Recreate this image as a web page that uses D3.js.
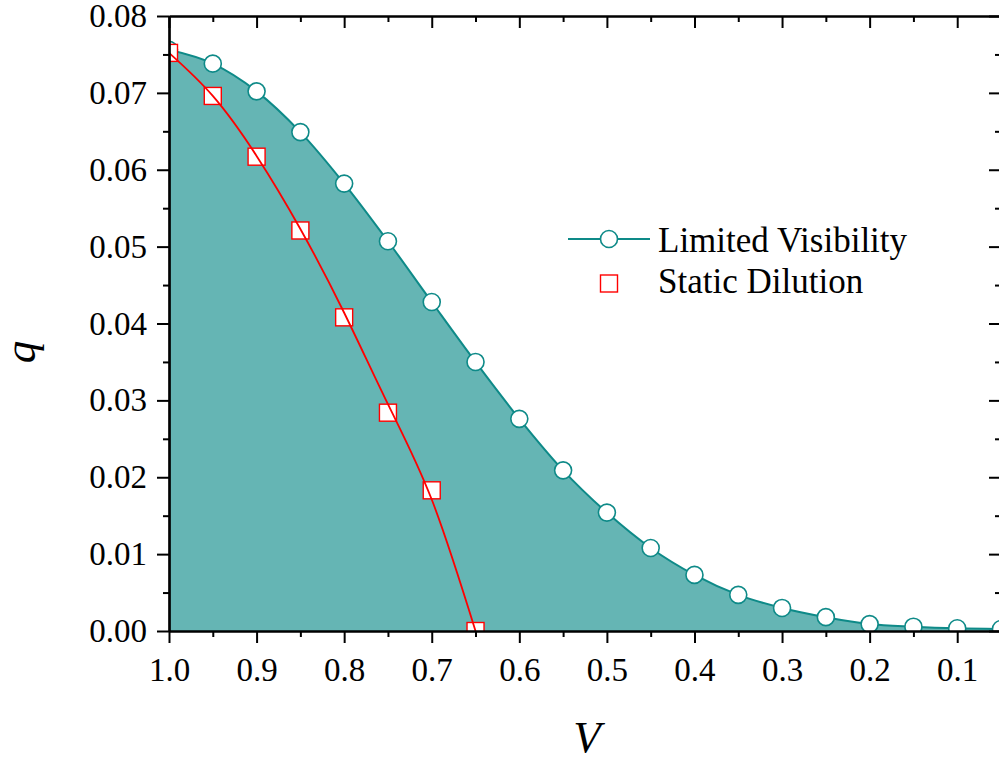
<!DOCTYPE html>
<html>
<head>
<meta charset="utf-8">
<script src="https://cdn.jsdelivr.net/npm/d3@7"></script>
<style>
  html, body { margin: 0; padding: 0; background: #fff; }
  svg { display: block; }
</style>
</head>
<body>
<svg id="chart" width="999" height="761"></svg>
<script>
// V values (x axis, reversed)
const vValues = [1.0, 0.95, 0.9, 0.85, 0.8, 0.75, 0.7, 0.65, 0.6, 0.55, 0.5,
                 0.45, 0.4, 0.35, 0.3, 0.25, 0.2, 0.15, 0.1, 0.05];
const limitedVisibility = [0.0756, 0.0738, 0.0702, 0.0649, 0.0582, 0.0507, 0.0428, 0.0350,
                           0.0276, 0.0209, 0.0154, 0.0108, 0.0073, 0.0047, 0.0030, 0.0018,
                           0.0009, 0.00056, 0.00035, 0.00026];

// Static dilution: symbols and the smooth fitted line drawn through them
const vStatic = [1.0, 0.95, 0.9, 0.85, 0.8, 0.75, 0.7, 0.65];
const staticDilution = [0.0752, 0.0696, 0.0617, 0.0521, 0.0408, 0.0284, 0.0183, 0.0];
const staticDilutionFit = [0.0752, 0.0696, 0.0618, 0.0523, 0.0414, 0.0295, 0.0171, 0.0];

const xMajorTicks = [1.0, 0.9, 0.8, 0.7, 0.6, 0.5, 0.4, 0.3, 0.2, 0.1];
const xMinorTicks = [0.95, 0.85, 0.75, 0.65, 0.55, 0.45, 0.35, 0.25, 0.15, 0.05];
const yMajorTicks = [0, 0.01, 0.02, 0.03, 0.04, 0.05, 0.06, 0.07, 0.08];
const yMinorTicks = [0.005, 0.015, 0.025, 0.035, 0.045, 0.055, 0.065, 0.075];

const seriesNames = ["Limited Visibility", "Static Dilution"];

const TEAL = "#0e8a88";
const FILL = "#65b5b4";
const RED = "#ff0000";

// pick the first Times-like font that is really installed
function hasFont(name) {
  const ctx = document.createElement("canvas").getContext("2d");
  const probe = "Limited Visibility 0.123456789";
  return ["monospace", "sans-serif"].some(fb => {
    ctx.font = `40px ${fb}`;
    const w0 = ctx.measureText(probe).width;
    ctx.font = `40px "${name}", ${fb}`;
    return ctx.measureText(probe).width !== w0;
  });
}
const serifCandidates = ["Liberation Serif", "Tinos", "Times New Roman", "Times",
                         "Nimbus Roman", "FreeSerif", "DejaVu Serif", "Noto Serif"];
const found = serifCandidates.find(hasFont);
const SERIF = found ? `"${found}", serif` : "serif";

const svg = d3.select("#chart");
const pLeft = 169, pRight = 1001, pTop = 16, pBottom = 631;

const x = d3.scaleLinear().domain([1.0, 0.05]).range([pLeft, pRight]);
const y = d3.scaleLinear().domain([0, 0.08]).range([pBottom, pTop]);

svg.append("defs").append("clipPath").attr("id", "plotclip")
  .append("rect").attr("x", pLeft).attr("y", pTop)
  .attr("width", pRight - pLeft).attr("height", pBottom - pTop);

const lvData = vValues.map((v, i) => ({ v, q: limitedVisibility[i] }));
const sdData = vStatic.map((v, i) => ({ v, q: staticDilution[i] }));
const sdFit = vStatic.map((v, i) => ({ v, q: staticDilutionFit[i] }));

const plot = svg.append("g").attr("clip-path", "url(#plotclip)");

// shaded area under limited visibility
plot.append("path").datum(lvData)
  .attr("fill", FILL)
  .attr("d", d3.area().x(d => x(d.v)).y0(y(0)).y1(d => y(d.q)).curve(d3.curveMonotoneX));

plot.append("path").datum(lvData)
  .attr("fill", "none").attr("stroke", TEAL).attr("stroke-width", 2)
  .attr("d", d3.line().x(d => x(d.v)).y(d => y(d.q)).curve(d3.curveMonotoneX));

plot.selectAll("circle.lv").data(lvData).enter().append("circle")
  .attr("class", "lv")
  .attr("cx", d => x(d.v)).attr("cy", d => y(d.q)).attr("r", 8.5)
  .attr("fill", "#fff").attr("stroke", TEAL).attr("stroke-width", 1.6);

plot.selectAll("rect.sd").data(sdData).enter().append("rect")
  .attr("class", "sd")
  .attr("x", d => x(d.v) - 8.5).attr("y", d => y(d.q) - 8.5)
  .attr("width", 17).attr("height", 17)
  .attr("fill", "#fff").attr("stroke", RED).attr("stroke-width", 1.4);

plot.append("path").datum(sdFit)
  .attr("fill", "none").attr("stroke", RED).attr("stroke-width", 1.8)
  .attr("d", d3.line().x(d => x(d.v)).y(d => y(d.q)).curve(d3.curveNatural));

// axes
function styleAxis(g) {
  g.attr("font-family", null).attr("font-size", null);
  g.selectAll(".domain").attr("stroke", "#000").attr("stroke-width", 2.2);
  g.selectAll(".tick line").attr("stroke", "#000").attr("stroke-width", 2);
  g.selectAll(".tick text").attr("fill", "#000").style("font-size", "33px")
    .style("font-family", SERIF);
}

const fmtX = d3.format(".1f");
const fmtY = d3.format(".2f");

svg.append("g").attr("transform", `translate(0,${pBottom})`)
  .call(d3.axisBottom(x).tickValues(xMinorTicks).tickSize(6).tickSizeOuter(0).tickFormat(""))
  .call(styleAxis);
svg.append("g").attr("transform", `translate(0,${pBottom})`)
  .call(d3.axisBottom(x).tickValues(xMajorTicks).tickSize(12).tickSizeOuter(0).tickPadding(15).tickFormat(fmtX))
  .call(styleAxis);

svg.append("g").attr("transform", `translate(0,${pTop})`)
  .call(d3.axisTop(x).tickValues(xMinorTicks).tickSize(-6).tickSizeOuter(0).tickFormat(""))
  .call(styleAxis);
svg.append("g").attr("transform", `translate(0,${pTop})`)
  .call(d3.axisTop(x).tickValues(xMajorTicks).tickSize(-12).tickSizeOuter(0).tickFormat(""))
  .call(styleAxis);

svg.append("g").attr("transform", `translate(${pLeft},0)`)
  .call(d3.axisLeft(y).tickValues(yMinorTicks).tickSize(6).tickSizeOuter(0).tickFormat(""))
  .call(styleAxis);
svg.append("g").attr("transform", `translate(${pLeft},0)`)
  .call(d3.axisLeft(y).tickValues(yMajorTicks).tickSize(12).tickSizeOuter(0).tickPadding(10).tickFormat(fmtY))
  .call(styleAxis);

svg.append("g").attr("transform", `translate(${pRight},0)`)
  .call(d3.axisRight(y).tickValues(yMinorTicks).tickSize(-6).tickSizeOuter(0).tickFormat(""))
  .call(styleAxis);
svg.append("g").attr("transform", `translate(${pRight},0)`)
  .call(d3.axisRight(y).tickValues(yMajorTicks).tickSize(-12).tickSizeOuter(0).tickFormat(""))
  .call(styleAxis);

// axis titles
svg.append("text")
  .attr("transform", "translate(35,352) rotate(-90)")
  .attr("text-anchor", "middle")
  .style("font-family", SERIF)
  .style("font-size", "45px").style("font-style", "italic")
  .text("q");

svg.append("text")
  .attr("x", 587).attr("y", 752)
  .attr("text-anchor", "middle")
  .style("font-family", SERIF)
  .style("font-size", "45px").style("font-style", "italic")
  .text("V");

// legend
const lg = svg.append("g");
lg.append("line").attr("x1", 568).attr("x2", 650).attr("y1", 239).attr("y2", 239)
  .attr("stroke", TEAL).attr("stroke-width", 2);
lg.append("circle").attr("cx", 609).attr("cy", 239).attr("r", 8.5)
  .attr("fill", "#fff").attr("stroke", TEAL).attr("stroke-width", 1.6);
lg.append("rect").attr("x", 600.5).attr("y", 275).attr("width", 17).attr("height", 17)
  .attr("fill", "#fff").attr("stroke", RED).attr("stroke-width", 1.4);
lg.append("text").attr("x", 658).attr("y", 252).style("font-family", SERIF)
  .style("font-size", "35px").text(seriesNames[0]);
lg.append("text").attr("x", 658).attr("y", 293).style("font-family", SERIF)
  .style("font-size", "35px").text(seriesNames[1]);
</script>
</body>
</html>
